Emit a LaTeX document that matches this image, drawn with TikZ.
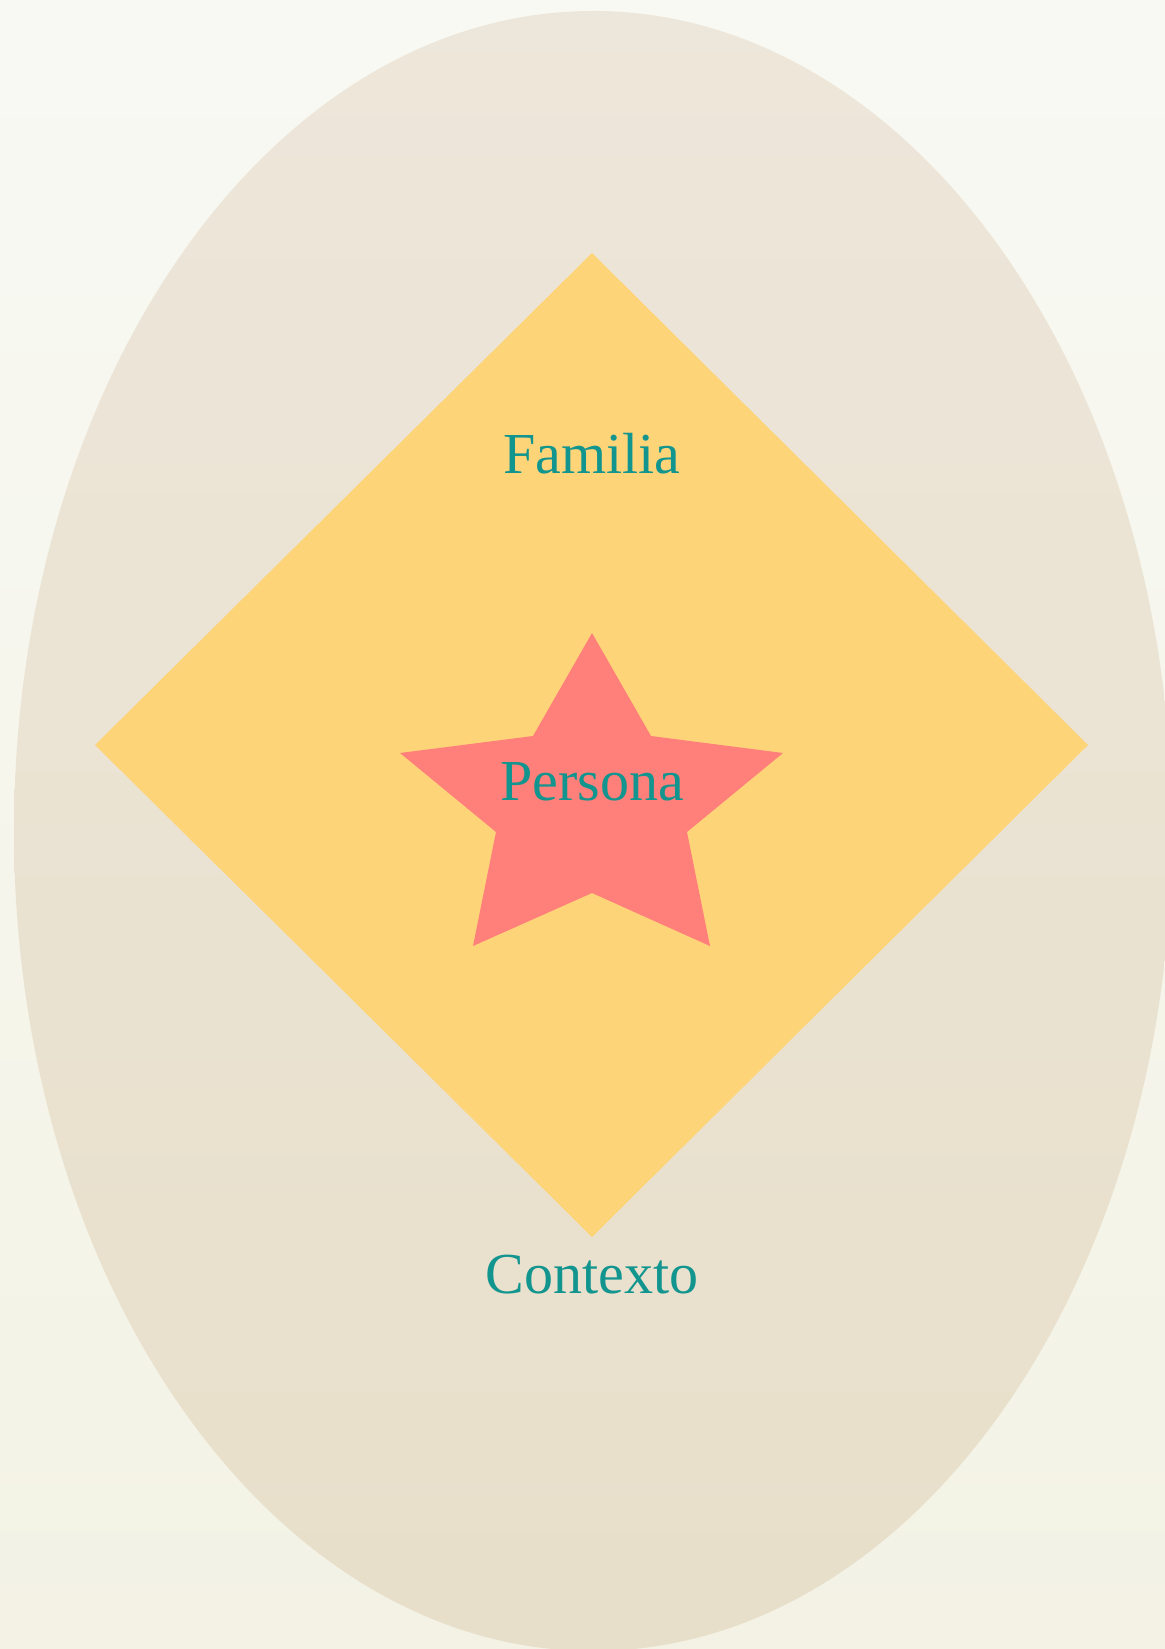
\documentclass[tikz,border=0pt]{standalone}
\usepackage{fontspec}
\setmainfont{Liberation Serif}
\usepackage{tikz}

\definecolor{bgtop}{HTML}{F8F9F3}
\definecolor{bgbot}{HTML}{F3F2E5}
\definecolor{ovaltop}{HTML}{EDE6DA}
\definecolor{ovalbot}{HTML}{E8DFCA}
\definecolor{rombo}{HTML}{FED479}
\definecolor{estrella}{HTML}{FF7F7A}
\definecolor{tealtxt}{HTML}{12958E}

\begin{document}
\begin{tikzpicture}[
  x=0.01cm, y=-0.01cm,
  lbl/.style={text=tealtxt, font=\fontsize{16.5}{19}\selectfont, inner sep=0pt, anchor=base}
]
% fondo
\shade[top color=bgtop, bottom color=bgbot] (0,0) rectangle (1165,1649);
\useasboundingbox (0,0) rectangle (1165,1649);
% ovalo (contexto)
\begin{scope}
  \clip (593,831) ellipse [x radius=579, y radius=820];
  \shade[top color=ovaltop, bottom color=ovalbot] (0,0) rectangle (1165,1649);
\end{scope}
% rombo (familia)
\fill[rombo] (592,253) -- (1088,745) -- (592,1237) -- (95,745) -- cycle;
% estrella (persona)
\fill[estrella] (592,633) -- (651,736) -- (783,753) -- (687,832) -- (710,946)
  -- (592,893) -- (473,946) -- (496,832) -- (400,753) -- (533,736) -- cycle;
% etiquetas
\node[lbl] (familia)  at (592,473)  {Familia};
\node[lbl] (persona)  at (592,800)  {Persona};
\node[lbl] (contexto) at (592,1293) {Contexto};
\end{tikzpicture}
\end{document}
